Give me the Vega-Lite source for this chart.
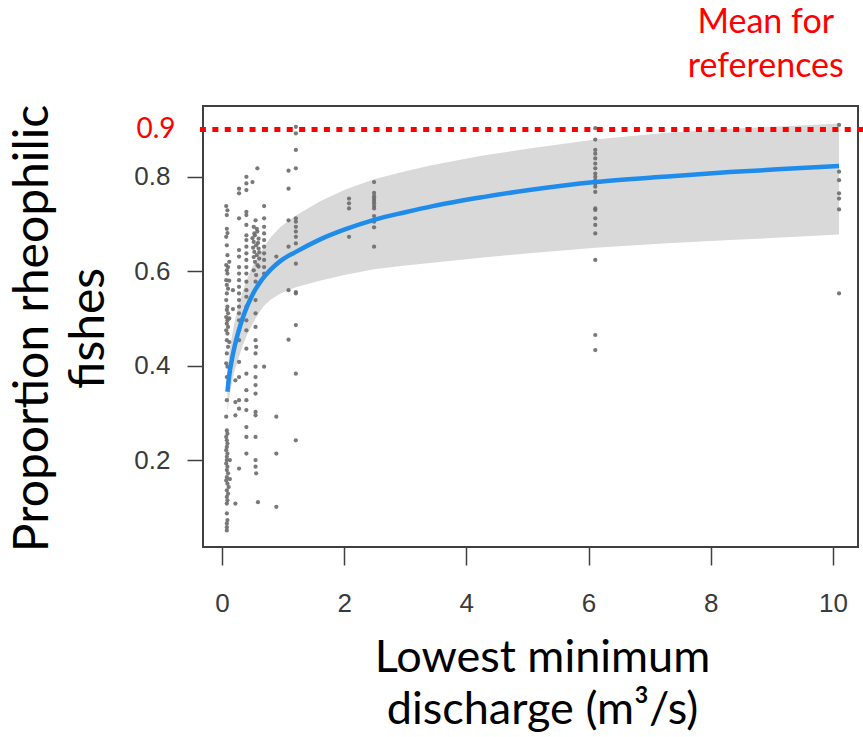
{
  "$schema": "https://vega.github.io/schema/vega-lite/v6.json",
  "width": 655,
  "height": 441,
  "autosize": {"type": "none"},
  "padding": {"left": 203, "top": 106, "right": 5, "bottom": 190},
  "background": "white",
  "config": {
    "view": {"stroke": "#404040", "strokeWidth": 2},
    "axis": {"grid": false, "domain": false, "tickColor": "#404040", "tickWidth": 1.5, "labelFont": "Liberation Sans", "labelColor": "#3a3a3a", "titleFont": "Lato", "titleFontWeight": "normal", "titleColor": "#000000"}
  },
  "datasets": {
    "pts": [
      {"x": 0.07, "y": 0.738}, {"x": 0.09, "y": 0.729}, {"x": 0.08, "y": 0.719}, {"x": 0.08, "y": 0.690}, {"x": 0.09, "y": 0.681}, {"x": 0.07, "y": 0.673}, {"x": 0.08, "y": 0.655}, {"x": 0.09, "y": 0.634}, {"x": 0.07, "y": 0.613}, {"x": 0.10, "y": 0.609}, {"x": 0.08, "y": 0.602}, {"x": 0.09, "y": 0.595}, {"x": 0.07, "y": 0.581}, {"x": 0.08, "y": 0.571}, {"x": 0.10, "y": 0.563}, {"x": 0.08, "y": 0.553}, {"x": 0.07, "y": 0.539}, {"x": 0.09, "y": 0.525}, {"x": 0.08, "y": 0.518}, {"x": 0.10, "y": 0.511}, {"x": 0.07, "y": 0.503}, {"x": 0.09, "y": 0.496}, {"x": 0.08, "y": 0.489}, {"x": 0.10, "y": 0.482}, {"x": 0.07, "y": 0.475}, {"x": 0.09, "y": 0.468}, {"x": 0.08, "y": 0.454}, {"x": 0.10, "y": 0.440}, {"x": 0.08, "y": 0.426}, {"x": 0.07, "y": 0.405}, {"x": 0.09, "y": 0.398}, {"x": 0.08, "y": 0.376}, {"x": 0.10, "y": 0.362}, {"x": 0.08, "y": 0.327}, {"x": 0.07, "y": 0.292}, {"x": 0.08, "y": 0.263}, {"x": 0.09, "y": 0.256}, {"x": 0.07, "y": 0.249}, {"x": 0.08, "y": 0.242}, {"x": 0.09, "y": 0.235}, {"x": 0.08, "y": 0.228}, {"x": 0.07, "y": 0.221}, {"x": 0.09, "y": 0.214}, {"x": 0.08, "y": 0.207}, {"x": 0.08, "y": 0.200}, {"x": 0.07, "y": 0.193}, {"x": 0.09, "y": 0.186}, {"x": 0.08, "y": 0.179}, {"x": 0.10, "y": 0.172}, {"x": 0.08, "y": 0.164}, {"x": 0.07, "y": 0.157}, {"x": 0.09, "y": 0.150}, {"x": 0.11, "y": 0.143}, {"x": 0.08, "y": 0.136}, {"x": 0.10, "y": 0.129}, {"x": 0.08, "y": 0.122}, {"x": 0.09, "y": 0.115}, {"x": 0.08, "y": 0.108}, {"x": 0.08, "y": 0.087}, {"x": 0.09, "y": 0.073}, {"x": 0.08, "y": 0.066}, {"x": 0.08, "y": 0.058}, {"x": 0.08, "y": 0.051},
      {"x": 0.12, "y": 0.62}, {"x": 0.12, "y": 0.58}, {"x": 0.12, "y": 0.50}, {"x": 0.12, "y": 0.45}, {"x": 0.13, "y": 0.20}, {"x": 0.13, "y": 0.16},
      {"x": 0.22, "y": 0.369}, {"x": 0.22, "y": 0.323}, {"x": 0.22, "y": 0.295}, {"x": 0.22, "y": 0.108}, {"x": 0.18, "y": 0.56}, {"x": 0.18, "y": 0.52},
      {"x": 0.28, "y": 0.775}, {"x": 0.28, "y": 0.765}, {"x": 0.28, "y": 0.712}, {"x": 0.28, "y": 0.645}, {"x": 0.28, "y": 0.631}, {"x": 0.28, "y": 0.609}, {"x": 0.28, "y": 0.595}, {"x": 0.28, "y": 0.581}, {"x": 0.28, "y": 0.567}, {"x": 0.28, "y": 0.553}, {"x": 0.28, "y": 0.539}, {"x": 0.28, "y": 0.525}, {"x": 0.28, "y": 0.511}, {"x": 0.28, "y": 0.496}, {"x": 0.28, "y": 0.475}, {"x": 0.28, "y": 0.454}, {"x": 0.28, "y": 0.408}, {"x": 0.28, "y": 0.376}, {"x": 0.28, "y": 0.327}, {"x": 0.28, "y": 0.309}, {"x": 0.28, "y": 0.182},
      {"x": 0.40, "y": 0.800}, {"x": 0.40, "y": 0.786}, {"x": 0.40, "y": 0.772}, {"x": 0.40, "y": 0.726}, {"x": 0.40, "y": 0.719}, {"x": 0.40, "y": 0.698}, {"x": 0.40, "y": 0.676}, {"x": 0.40, "y": 0.666}, {"x": 0.40, "y": 0.652}, {"x": 0.40, "y": 0.638}, {"x": 0.40, "y": 0.624}, {"x": 0.40, "y": 0.609}, {"x": 0.40, "y": 0.595}, {"x": 0.40, "y": 0.578}, {"x": 0.40, "y": 0.560}, {"x": 0.40, "y": 0.546}, {"x": 0.40, "y": 0.525}, {"x": 0.40, "y": 0.496}, {"x": 0.40, "y": 0.475}, {"x": 0.40, "y": 0.436}, {"x": 0.40, "y": 0.383}, {"x": 0.40, "y": 0.348}, {"x": 0.40, "y": 0.327}, {"x": 0.40, "y": 0.306}, {"x": 0.40, "y": 0.270}, {"x": 0.40, "y": 0.249}, {"x": 0.40, "y": 0.214},
      {"x": 0.58, "y": 0.818}, {"x": 0.50, "y": 0.789}, {"x": 0.55, "y": 0.708}, {"x": 0.52, "y": 0.694}, {"x": 0.58, "y": 0.684}, {"x": 0.54, "y": 0.676}, {"x": 0.60, "y": 0.669}, {"x": 0.52, "y": 0.662}, {"x": 0.56, "y": 0.655}, {"x": 0.60, "y": 0.648}, {"x": 0.53, "y": 0.641}, {"x": 0.57, "y": 0.634}, {"x": 0.61, "y": 0.627}, {"x": 0.54, "y": 0.620}, {"x": 0.58, "y": 0.613}, {"x": 0.52, "y": 0.602}, {"x": 0.56, "y": 0.592}, {"x": 0.55, "y": 0.578}, {"x": 0.55, "y": 0.539}, {"x": 0.55, "y": 0.511}, {"x": 0.55, "y": 0.482}, {"x": 0.55, "y": 0.454}, {"x": 0.56, "y": 0.440}, {"x": 0.55, "y": 0.426}, {"x": 0.55, "y": 0.398}, {"x": 0.55, "y": 0.376}, {"x": 0.55, "y": 0.359}, {"x": 0.55, "y": 0.341}, {"x": 0.55, "y": 0.302}, {"x": 0.55, "y": 0.295}, {"x": 0.55, "y": 0.249}, {"x": 0.55, "y": 0.200}, {"x": 0.55, "y": 0.186}, {"x": 0.56, "y": 0.172}, {"x": 0.59, "y": 0.111},
      {"x": 0.50, "y": 0.670}, {"x": 0.51, "y": 0.650}, {"x": 0.52, "y": 0.630}, {"x": 0.59, "y": 0.660}, {"x": 0.61, "y": 0.640}, {"x": 0.60, "y": 0.610}, {"x": 0.53, "y": 0.680}, {"x": 0.57, "y": 0.690},
      {"x": 0.69, "y": 0.738}, {"x": 0.69, "y": 0.712}, {"x": 0.69, "y": 0.694}, {"x": 0.69, "y": 0.680}, {"x": 0.69, "y": 0.666}, {"x": 0.69, "y": 0.652}, {"x": 0.69, "y": 0.638}, {"x": 0.69, "y": 0.624}, {"x": 0.69, "y": 0.609}, {"x": 0.69, "y": 0.595}, {"x": 0.69, "y": 0.398},
      {"x": 0.89, "y": 0.631}, {"x": 0.89, "y": 0.292}, {"x": 0.89, "y": 0.214}, {"x": 0.89, "y": 0.101},
      {"x": 1.09, "y": 0.813}, {"x": 1.09, "y": 0.775}, {"x": 1.09, "y": 0.708}, {"x": 1.09, "y": 0.652}, {"x": 1.09, "y": 0.560}, {"x": 1.09, "y": 0.455},
      {"x": 1.21, "y": 0.906}, {"x": 1.21, "y": 0.892}, {"x": 1.21, "y": 0.857}, {"x": 1.21, "y": 0.818}, {"x": 1.21, "y": 0.712}, {"x": 1.21, "y": 0.705}, {"x": 1.21, "y": 0.694}, {"x": 1.21, "y": 0.684}, {"x": 1.21, "y": 0.673}, {"x": 1.21, "y": 0.659}, {"x": 1.21, "y": 0.616}, {"x": 1.21, "y": 0.556}, {"x": 1.21, "y": 0.553}, {"x": 1.21, "y": 0.486}, {"x": 1.21, "y": 0.383}, {"x": 1.21, "y": 0.242},
      {"x": 2.08, "y": 0.754}, {"x": 2.08, "y": 0.744}, {"x": 2.08, "y": 0.733}, {"x": 2.08, "y": 0.673},
      {"x": 2.49, "y": 0.789}, {"x": 2.49, "y": 0.766}, {"x": 2.49, "y": 0.759}, {"x": 2.49, "y": 0.754}, {"x": 2.49, "y": 0.749}, {"x": 2.49, "y": 0.744}, {"x": 2.49, "y": 0.738}, {"x": 2.49, "y": 0.733}, {"x": 2.49, "y": 0.717}, {"x": 2.49, "y": 0.705}, {"x": 2.49, "y": 0.693}, {"x": 2.49, "y": 0.652},
      {"x": 6.11, "y": 0.903}, {"x": 6.11, "y": 0.879}, {"x": 6.11, "y": 0.857}, {"x": 6.11, "y": 0.849}, {"x": 6.11, "y": 0.839}, {"x": 6.11, "y": 0.828}, {"x": 6.11, "y": 0.818}, {"x": 6.11, "y": 0.807}, {"x": 6.11, "y": 0.800}, {"x": 6.11, "y": 0.793}, {"x": 6.11, "y": 0.786}, {"x": 6.11, "y": 0.779}, {"x": 6.11, "y": 0.768}, {"x": 6.11, "y": 0.733}, {"x": 6.11, "y": 0.730}, {"x": 6.11, "y": 0.712}, {"x": 6.11, "y": 0.698}, {"x": 6.11, "y": 0.680}, {"x": 6.11, "y": 0.624}, {"x": 6.11, "y": 0.465}, {"x": 6.11, "y": 0.433},
      {"x": 10.1, "y": 0.910}, {"x": 10.1, "y": 0.811}, {"x": 10.1, "y": 0.793}, {"x": 10.1, "y": 0.765}, {"x": 10.1, "y": 0.754}, {"x": 10.1, "y": 0.731}, {"x": 10.1, "y": 0.553}
    ],
    "fit": [
      {"x": 0.09, "fit": 0.345, "lo": 0.30, "hi": 0.39},
      {"x": 0.12, "fit": 0.38, "lo": 0.333, "hi": 0.427},
      {"x": 0.17, "fit": 0.418, "lo": 0.368, "hi": 0.468},
      {"x": 0.21, "fit": 0.442, "lo": 0.39, "hi": 0.494},
      {"x": 0.27, "fit": 0.472, "lo": 0.415, "hi": 0.528},
      {"x": 0.34, "fit": 0.501, "lo": 0.443, "hi": 0.558},
      {"x": 0.41, "fit": 0.525, "lo": 0.465, "hi": 0.583},
      {"x": 0.48, "fit": 0.545, "lo": 0.483, "hi": 0.605},
      {"x": 0.55, "fit": 0.562, "lo": 0.50, "hi": 0.623},
      {"x": 0.62, "fit": 0.576, "lo": 0.515, "hi": 0.638},
      {"x": 0.69, "fit": 0.588, "lo": 0.527, "hi": 0.652},
      {"x": 0.80, "fit": 0.604, "lo": 0.540, "hi": 0.672},
      {"x": 0.96, "fit": 0.622, "lo": 0.553, "hi": 0.694},
      {"x": 1.21, "fit": 0.641, "lo": 0.566, "hi": 0.718},
      {"x": 1.60, "fit": 0.667, "lo": 0.580, "hi": 0.748},
      {"x": 2.00, "fit": 0.688, "lo": 0.592, "hi": 0.772},
      {"x": 2.49, "fit": 0.709, "lo": 0.604, "hi": 0.795},
      {"x": 3.00, "fit": 0.725, "lo": 0.612, "hi": 0.812},
      {"x": 3.45, "fit": 0.738, "lo": 0.618, "hi": 0.825},
      {"x": 4.27, "fit": 0.757, "lo": 0.629, "hi": 0.845},
      {"x": 5.03, "fit": 0.772, "lo": 0.638, "hi": 0.86},
      {"x": 6.11, "fit": 0.789, "lo": 0.65, "hi": 0.879},
      {"x": 7.22, "fit": 0.800, "lo": 0.659, "hi": 0.893},
      {"x": 8.31, "fit": 0.810, "lo": 0.666, "hi": 0.902},
      {"x": 9.40, "fit": 0.818, "lo": 0.673, "hi": 0.908},
      {"x": 10.1, "fit": 0.823, "lo": 0.678, "hi": 0.913}
    ],
    "ref": [{"level": 0.9}],
    "note": [{"label": "Mean for references"}]
  },
  "layer": [
    {
      "data": {"name": "fit"},
      "mark": {"type": "area", "color": "#d9d9d9", "opacity": 1},
      "encoding": {
        "x": {"field": "x", "type": "quantitative", "scale": {"domain": [-0.31, 10.41], "nice": false, "zero": false},
          "axis": {"values": [0, 2, 4, 6, 8, 10], "format": "d", "tickSize": 18, "labelFontSize": 26, "labelPadding": 25,
            "title": ["Lowest minimum", "discharge (m³/s)"], "titleFontSize": 45, "titleX": 339, "titleY": 124, "titleAlign": "center", "titleBaseline": "alphabetic", "titleLineHeight": 52}},
        "y": {"field": "lo", "type": "quantitative", "scale": {"domain": [0.016, 0.95], "nice": false, "zero": false},
          "axis": {"values": [0.2, 0.4, 0.6, 0.8, 0.9], "format": ".1f", "tickSize": 16,
            "labelPadding": {"condition": {"test": "datum.value > 0.85", "value": 12}, "value": 17},
            "labelFontSize": {"condition": {"test": "datum.value > 0.85", "value": 28}, "value": 26},
            "labelFont": {"condition": {"test": "datum.value > 0.85", "value": "Lato"}, "value": "Liberation Sans"},
            "labelColor": {"condition": {"test": "datum.value > 0.85", "value": "#ff0000"}, "value": "#3a3a3a"},
            "tickOpacity": {"condition": {"test": "datum.value > 0.85", "value": 0}, "value": 1},
            "title": ["Proportion rheophilic", "fishes"], "titleFontSize": 48, "titleAngle": 270, "titleX": -156, "titleY": 222, "titleAlign": "center", "titleBaseline": "alphabetic", "titleLineHeight": 56}},
        "y2": {"field": "hi"}
      }
    },
    {
      "data": {"name": "pts"},
      "mark": {"type": "point", "filled": true, "shape": "circle", "size": 18, "color": "#6a6a6a", "opacity": 0.9},
      "encoding": {
        "x": {"field": "x", "type": "quantitative"},
        "y": {"field": "y", "type": "quantitative"}
      }
    },
    {
      "data": {"name": "fit"},
      "mark": {"type": "line", "color": "#1f8ceb", "strokeWidth": 4.5, "interpolate": "monotone"},
      "encoding": {
        "x": {"field": "x", "type": "quantitative"},
        "y": {"field": "fit", "type": "quantitative"}
      }
    },
    {
      "data": {"name": "ref"},
      "mark": {"type": "rule", "color": "#ff0000", "strokeWidth": 5, "strokeDash": [6, 6.4], "clip": false},
      "encoding": {
        "y": {"field": "level", "type": "quantitative"},
        "x": {"datum": -0.36},
        "x2": {"datum": 10.52}
      }
    },
    {
      "data": {"name": "note"},
      "mark": {"type": "text", "text": ["Mean for", "references"], "font": "Lato", "fontSize": 34, "color": "#ff0000", "align": "center", "baseline": "alphabetic", "lineHeight": 44, "clip": false},
      "encoding": {
        "x": {"datum": 8.9},
        "y": {"datum": 1.104}
      }
    }
  ]
}
